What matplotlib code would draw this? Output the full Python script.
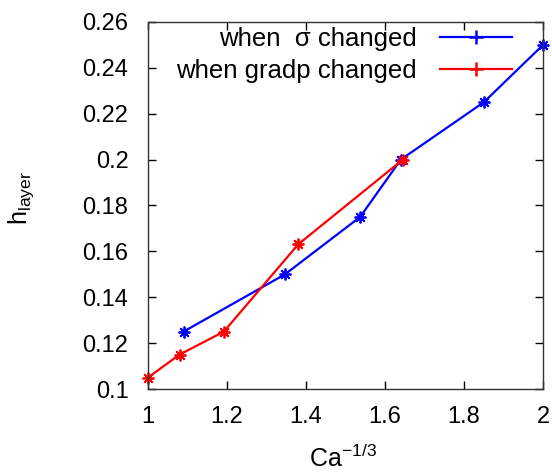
import matplotlib
matplotlib.use('Agg')
from matplotlib import pyplot as plt
from matplotlib.lines import Line2D

plt.rcParams['font.family'] = ['Liberation Sans', 'DejaVu Sans']
plt.rcParams['mathtext.default'] = 'regular'

# data
sigma_x = [1.09, 1.347, 1.537, 1.64, 1.85, 2.0]
sigma_y = [0.125, 0.15, 0.175, 0.2, 0.225, 0.25]
gradp_x = [1.0, 1.08, 1.192, 1.38, 1.645]
gradp_y = [0.105, 0.115, 0.125, 0.163, 0.2]
xticks = [1, 1.2, 1.4, 1.6, 1.8, 2]
yticks = [0.1, 0.12, 0.14, 0.16, 0.18, 0.2, 0.22, 0.24, 0.26]

fig = plt.figure(figsize=(5.52, 4.75), dpi=100)
ax = fig.add_axes([0.268, 0.181, 0.716, 0.773])

star = (8, 2, 0)
ax.plot(sigma_x, sigma_y, color='#0000ff', lw=1.6, marker=star, ms=8.5, mew=1.3, clip_on=False)
ax.plot(gradp_x, gradp_y, color='#ff0000', lw=1.6, marker=star, ms=8.5, mew=1.3, clip_on=False)

ax.set_xlim(1, 2)
ax.set_ylim(0.1, 0.26)
ax.set_xticks(xticks)
ax.set_xticklabels(['1', '1.2', '1.4', '1.6', '1.8', '2'])
ax.set_yticks(yticks)
ax.set_yticklabels(['0.1', '0.12', '0.14', '0.16', '0.18', '0.2', '0.22', '0.24', '0.26'])
ax.tick_params(direction='in', top=True, right=True, labelsize=17, length=6, width=1)
ax.tick_params(axis='y', pad=14)
ax.tick_params(axis='x', pad=12)
for s in ax.spines.values():
    s.set_linewidth(1)
    s.set_color('#333333')

fig.text(343 / 552, 1 - 467 / 475, 'Ca$^{-1/3}$', fontsize=18, ha='center', va='baseline')
fig.text(21 / 552, 1 - 198 / 475, 'h$_{layer}$', fontsize=18, ha='center', va='center', rotation=90)

handles = [Line2D([], [], color='#0000ff', lw=1.6, marker='+', ms=10, mew=1.8),
           Line2D([], [], color='#ff0000', lw=1.6, marker='+', ms=10, mew=1.8)]
ax.legend(handles, ['when  σ changed', 'when gradp changed'], loc='upper right',
          bbox_to_anchor=(512 / 552, 1 - 27 / 475), bbox_transform=fig.transFigure,
          frameon=False, markerfirst=False, fontsize=18.5, borderpad=0, borderaxespad=0,
          handlelength=2.8, handletextpad=0.9, labelspacing=0.3)

fig.savefig('out.png', dpi=100)
